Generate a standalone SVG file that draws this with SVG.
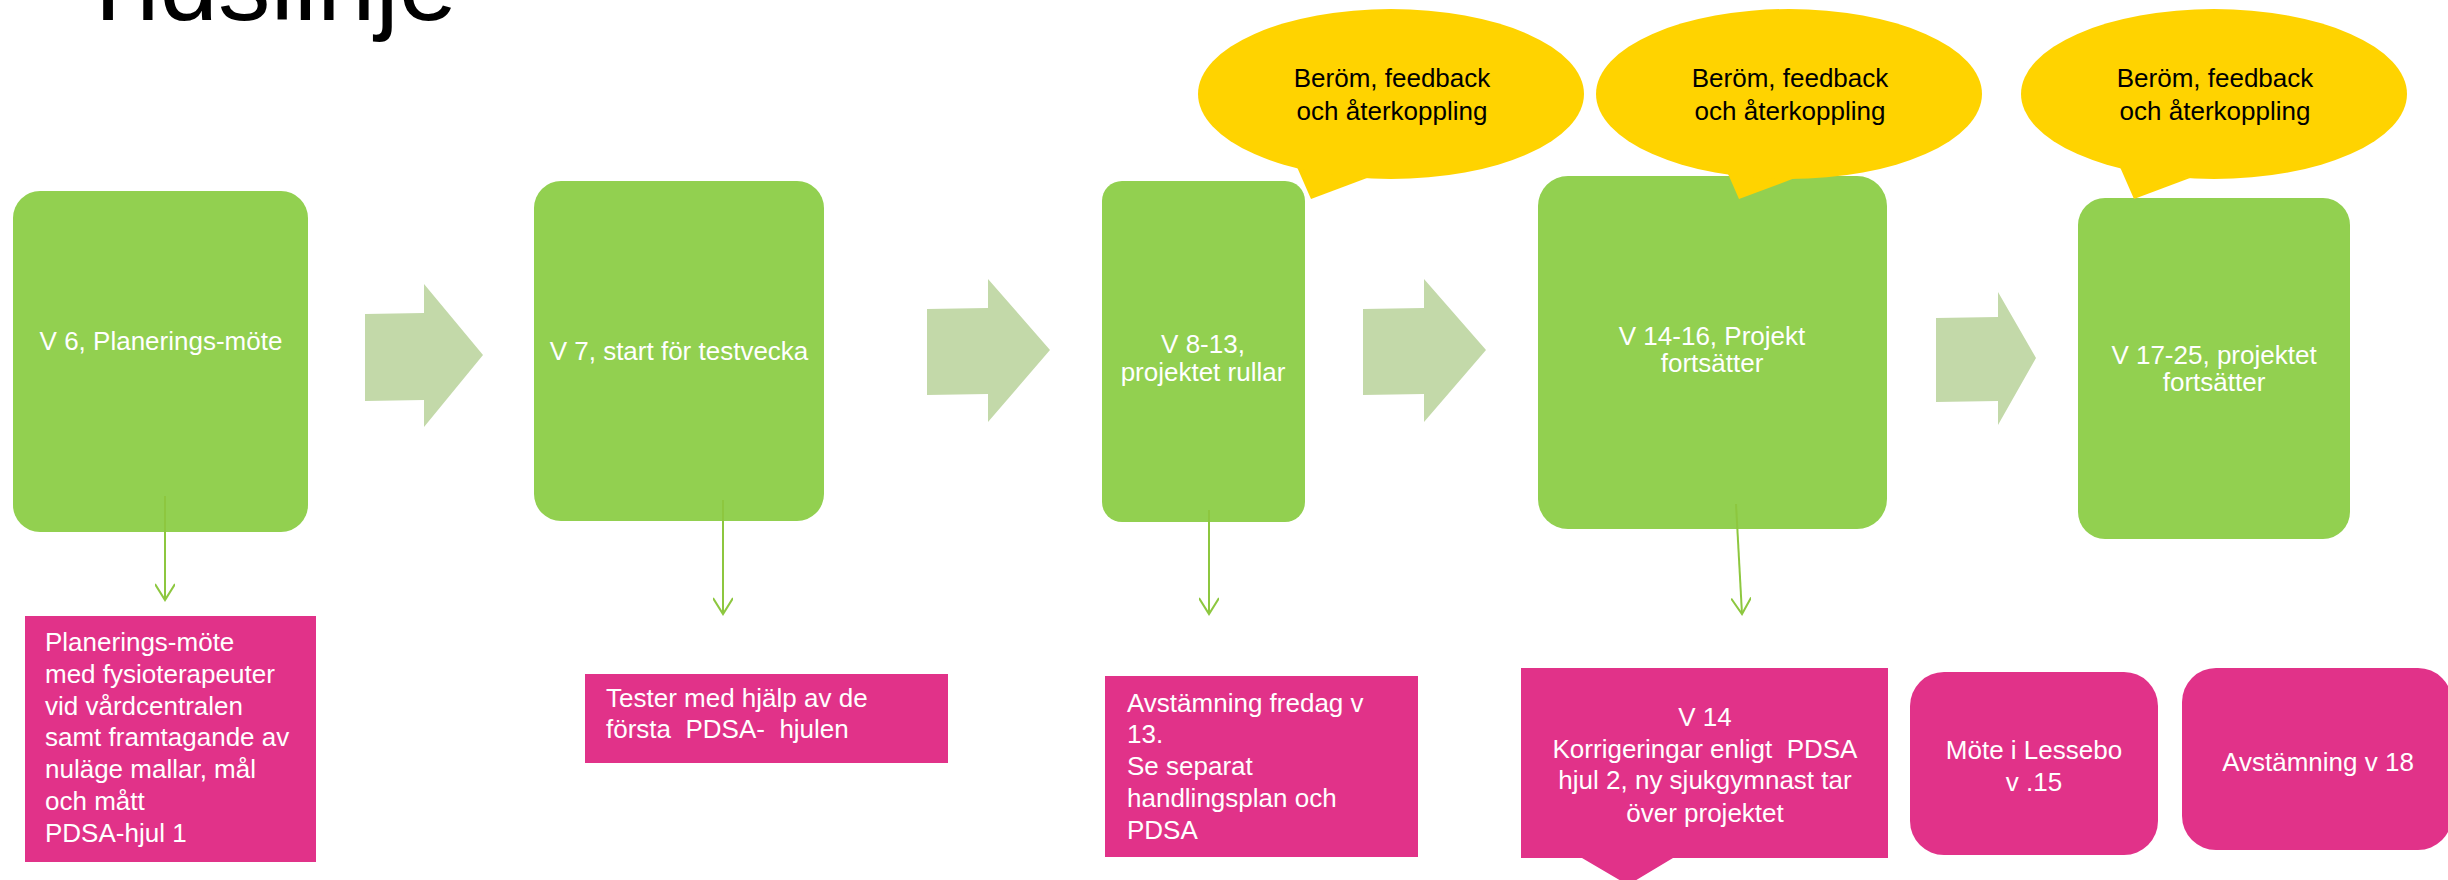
<svg xmlns="http://www.w3.org/2000/svg" width="2448" height="880" viewBox="0 0 2448 880">
<defs>
<style>
.green{fill:#92D050;}
.pink{fill:#E13289;}
.yellow{fill:#FFD300;}
.arrow{fill:#C3D9A9;}
.wt{fill:#FFFFFF;font-family:"Liberation Sans",Arial,sans-serif;font-size:26px;white-space:pre;}
.bt{fill:#000000;font-family:"Liberation Sans",Arial,sans-serif;font-size:26px;}
.conn{stroke:#8DC73F;stroke-width:2;fill:none;}
</style>
<marker id="vh" viewBox="0 0 20 20" refX="18" refY="10" markerWidth="20" markerHeight="20" markerUnits="userSpaceOnUse" orient="auto">
<path d="M2,0 L18,10 L2,20" fill="none" stroke="#8DC73F" stroke-width="2"/>
</marker>
</defs>
<rect width="2448" height="880" fill="#FFFFFF"/>
<text x="76" y="20" font-family="Liberation Sans,Arial,sans-serif" font-size="105" fill="#000000">Tidslinje</text>

<g id="arrows">
<polygon id="arrow1" class="arrow" points="365,314 424,313 424,284 483,355 424,427 424,400 365,401"/>
<polygon id="arrow2" class="arrow" points="927,309 988,308 988,279 1050,350 988,422 988,394 927,395"/>
<polygon id="arrow3" class="arrow" points="1363,309 1424,308 1424,279 1486,350 1424,422 1424,394 1363,395"/>
<polygon id="arrow4" class="arrow" points="1936,318 1998,317 1998,292 2036,358 1998,425 1998,401 1936,402"/>
</g>

<g id="box1"><rect class="green" x="13" y="191" width="295" height="341" rx="27"/>
<text class="wt" x="161" y="350" text-anchor="middle">V 6, Planerings-möte</text></g>
<g id="box2"><rect class="green" x="534" y="181" width="290" height="340" rx="27"/>
<text class="wt" x="679" y="360" text-anchor="middle">V 7, start för testvecka</text></g>
<g id="box3"><rect class="green" x="1102" y="181" width="203" height="341" rx="20"/>
<text class="wt" x="1203" y="353" text-anchor="middle">V 8-13,</text>
<text class="wt" x="1203" y="381" text-anchor="middle">projektet rullar</text></g>
<g id="box4"><rect class="green" x="1538" y="176" width="349" height="353" rx="30"/>
<text class="wt" x="1712" y="345" text-anchor="middle">V 14-16, Projekt</text>
<text class="wt" x="1712" y="372" text-anchor="middle">fortsätter</text></g>
<g id="box5"><rect class="green" x="2078" y="198" width="272" height="341" rx="27"/>
<text class="wt" x="2214" y="364" text-anchor="middle">V 17-25, projektet</text>
<text class="wt" x="2214" y="391" text-anchor="middle">fortsätter</text></g>

<g id="callout1"><path class="yellow" d="M1297,167 L1311,199 L1367,178 Z"/>
<ellipse class="yellow" cx="1391" cy="94" rx="193" ry="85"/>
<text class="bt" x="1392" y="87" text-anchor="middle">Beröm, feedback</text>
<text class="bt" x="1392" y="120" text-anchor="middle">och återkoppling</text></g>
<g id="callout2"><path class="yellow" d="M1725,167 L1739,199 L1795,178 Z"/>
<ellipse class="yellow" cx="1789" cy="94" rx="193" ry="85"/>
<text class="bt" x="1790" y="87" text-anchor="middle">Beröm, feedback</text>
<text class="bt" x="1790" y="120" text-anchor="middle">och återkoppling</text></g>
<g id="callout3"><path class="yellow" d="M2120,167 L2134,199 L2190,178 Z"/>
<ellipse class="yellow" cx="2214" cy="94" rx="193" ry="85"/>
<text class="bt" x="2215" y="87" text-anchor="middle">Beröm, feedback</text>
<text class="bt" x="2215" y="120" text-anchor="middle">och återkoppling</text></g>

<g id="connectors">
<line class="conn" x1="165" y1="496" x2="165" y2="600" marker-end="url(#vh)"/>
<line class="conn" x1="723" y1="500" x2="723" y2="614" marker-end="url(#vh)"/>
<line class="conn" x1="1209" y1="510" x2="1209" y2="614" marker-end="url(#vh)"/>
<line class="conn" x1="1736" y1="504" x2="1742" y2="614" marker-end="url(#vh)"/>
</g>

<g id="pink1"><rect class="pink" x="25" y="616" width="291" height="246"/>
<text class="wt"><tspan x="45" y="651">Planerings-möte</tspan><tspan x="45" y="683">med fysioterapeuter</tspan><tspan x="45" y="715">vid vårdcentralen</tspan><tspan x="45" y="746">samt framtagande av</tspan><tspan x="45" y="778">nuläge mallar, mål</tspan><tspan x="45" y="810">och mått</tspan><tspan x="45" y="842">PDSA-hjul 1</tspan></text></g>
<g id="pink2"><rect class="pink" x="585" y="674" width="363" height="89"/>
<text class="wt" xml:space="preserve"><tspan x="606" y="707">Tester med hjälp av de</tspan><tspan x="606" y="738">första  PDSA-  hjulen</tspan></text></g>
<g id="pink3"><rect class="pink" x="1105" y="676" width="313" height="181"/>
<text class="wt"><tspan x="1127" y="712">Avstämning fredag v</tspan><tspan x="1127" y="743">13.</tspan><tspan x="1127" y="775">Se separat</tspan><tspan x="1127" y="807">handlingsplan och</tspan><tspan x="1127" y="839">PDSA</tspan></text></g>
<g id="pink4"><path class="pink" d="M1521,668 H1888 V858 H1673 L1628,885 L1582,858 H1521 Z"/>
<text class="wt" text-anchor="middle" xml:space="preserve"><tspan x="1705" y="726">V 14</tspan><tspan x="1705" y="758">Korrigeringar enligt  PDSA</tspan><tspan x="1705" y="789">hjul 2, ny sjukgymnast tar</tspan><tspan x="1705" y="822">över projektet</tspan></text></g>
<g id="pink5"><rect class="pink" x="1910" y="672" width="248" height="183" rx="34"/>
<text class="wt" text-anchor="middle"><tspan x="2034" y="759">Möte i Lessebo</tspan><tspan x="2034" y="791">v .15</tspan></text></g>
<g id="pink6"><rect class="pink" x="2182" y="668" width="270" height="182" rx="34"/>
<text class="wt" x="2318" y="771" text-anchor="middle">Avstämning v 18</text></g>
</svg>
